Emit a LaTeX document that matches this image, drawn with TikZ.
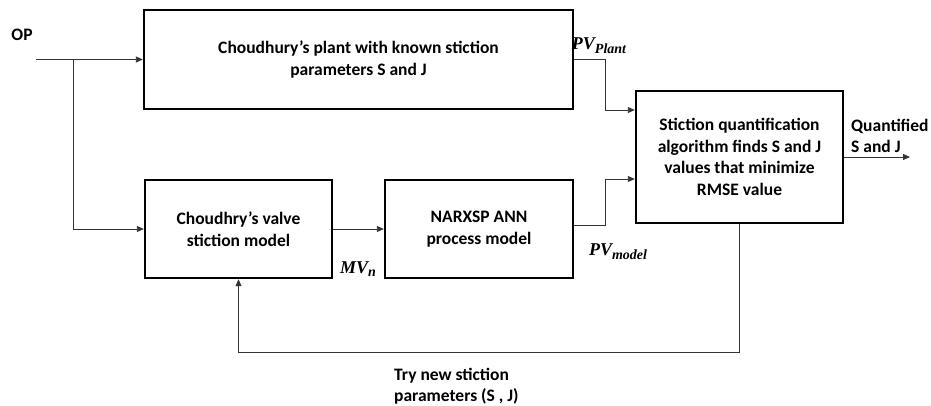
\documentclass[tikz,border=0pt]{standalone}
\usepackage{fontspec}
\setmainfont{Carlito}
\newfontfamily\sigfont{Liberation Serif}
\usetikzlibrary{arrows.meta}
% signal name: large symbol with lowered, smaller subscript
\newcommand{\signame}[2]{{\sigfont\bfseries\itshape #1\raisebox{-0.45ex}{\fontsize{14}{14}\selectfont #2}}}
\begin{document}
\begin{tikzpicture}[x=1pt,y=-1pt,
  font=\fontsize{17.5}{21.5}\selectfont\bfseries,
  block/.style={draw=black, line width=2.4pt, fill=white, align=center, inner sep=2pt},
  link/.style={draw=black!80, line width=0.9pt},
  arr/.style={link, -{Triangle[length=7pt,width=6pt]}},
  lbl/.style={inner sep=0pt},
  sig/.style={lbl, font=\fontsize{18}{22}\selectfont}]
\useasboundingbox (0,0) rectangle (931,405);

% blocks
\node[block, minimum width=429, minimum height=99] (plant) at (358.5,59.5)
  {Choudhury’s plant with known stiction\\parameters S and J};
\node[block, minimum width=187, minimum height=98] (valve) at (238.5,229)
  {Choudhry’s valve\\stiction model};
\node[block, minimum width=188, minimum height=98] (narx) at (479,229)
  {NARXSP ANN\\process model};
\node[block, minimum width=207, minimum height=132] (algo) at (739.5,157)
  {Stiction quantification\\algorithm finds S and J\\values that minimize\\RMSE value};

% input
\node[lbl] (op) at (22,35) {OP};
\coordinate (in) at (36,59.5);
\coordinate (split) at (73,59.5);
\draw[arr] (in) -- (plant.west);
\draw[arr] (split) |- (valve.west);

% forward path
\draw[arr] (valve.east) -- (narx.west);
\draw[arr] (plant.east) -- (605,59.5) |- (algo.west |- 0,110);
\draw[arr] (narx.east |- 0,225) -- (605,225) |- (algo.west |- 0,179);

% output
\coordinate (out) at (910,157);
\draw[arr] (algo.east) -- (out);

% feedback
\draw[arr] (algo.south) -- (739.5,352) -| (valve.south);

% signal labels
\node[sig] (mvn) at (358,269) {\signame{MV}{n}};
\node[sig] (pvp) at (599,46) {\signame{PV}{Plant}};
\node[sig] (pvm) at (618,252) {\signame{PV}{model}};
\node[lbl, anchor=west, align=left] (qout) at (851,136) {Quantified\\S and J};
\node[lbl, anchor=west, align=left] (try) at (394,386) {Try new stiction\\parameters (S , J)};
\end{tikzpicture}
\end{document}
